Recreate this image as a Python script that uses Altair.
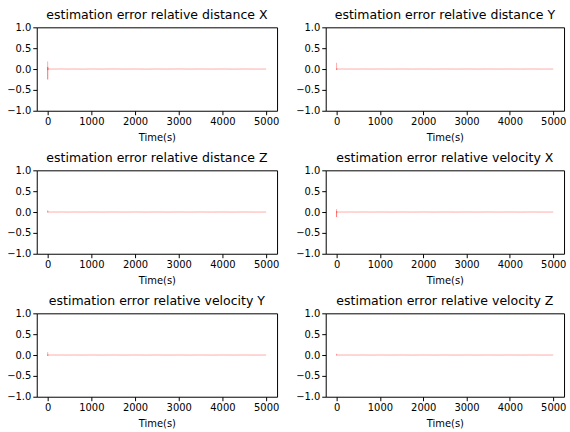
import altair as alt
import pandas as pd

time = [0, 1, 2, 4, 6, 10, 20, 30, 50, 80, 120, 200, 300, 450, 600, 800,
        1000, 1250, 1500, 1750, 2000, 2250, 2500, 2750, 3000, 3250, 3500, 3750, 4000,
        4250, 4500, 4750, 5000]

err_dx = [0.18, -0.25, 0.05, -0.02, 0.01, -0.005, 0.003, -0.002,
          0.002, -0.002, 0.001, -0.001, 0.002, -0.001, 0.001, -0.002, 0.001, -0.001, 0.002,
          -0.001, 0.001, -0.002, 0.001, -0.001, 0.002, -0.001, 0.001, -0.001, 0.001, -0.002,
          0.001, -0.001, 0.0]
err_dy = [0.15, -0.02, 0.01, -0.005, 0.003, -0.002, 0.002, -0.001,
          0.001, -0.001, 0.001, -0.001, 0.001, -0.001, 0.001, -0.001, 0.001, -0.001, 0.001,
          -0.001, 0.001, -0.001, 0.001, -0.001, 0.001, -0.001, 0.001, -0.001, 0.001, -0.001,
          0.001, -0.001, 0.0]
err_dz = [0.04, -0.01, 0.01, 0.0, 0.004, -0.002, 0.002, -0.001,
          0.001, -0.001, 0.001, -0.001, 0.001, -0.001, 0.001, -0.001, 0.001, -0.001, 0.001,
          -0.001, 0.001, -0.001, 0.001, -0.001, 0.001, -0.001, 0.001, -0.001, 0.001, -0.001,
          0.001, -0.001, 0.0]
err_vx = [0.07, -0.12, 0.02, -0.01, 0.004, -0.003, 0.002, -0.001,
          0.001, -0.001, 0.001, -0.001, 0.001, -0.001, 0.001, -0.001, 0.001, -0.001, 0.001,
          -0.001, 0.001, -0.001, 0.001, -0.001, 0.001, -0.001, 0.001, -0.001, 0.001, -0.001,
          0.001, -0.001, 0.0]
err_vy = [0.07, -0.02, 0.01, -0.005, 0.003, -0.002, 0.002, -0.001,
          0.001, -0.001, 0.001, -0.001, 0.001, -0.001, 0.001, -0.001, 0.001, -0.001, 0.001,
          -0.001, 0.001, -0.001, 0.001, -0.001, 0.001, -0.001, 0.001, -0.001, 0.001, -0.001,
          0.001, -0.001, 0.0]
err_vz = [0.03, -0.01, 0.005, 0.0, 0.002, -0.001, 0.001, -0.001,
          0.001, -0.001, 0.001, -0.001, 0.001, -0.001, 0.001, -0.001, 0.001, -0.001, 0.001,
          -0.001, 0.001, -0.001, 0.001, -0.001, 0.001, -0.001, 0.001, -0.001, 0.001, -0.001,
          0.001, -0.001, 0.0]

titles = [
    "estimation error relative distance X",
    "estimation error relative distance Y",
    "estimation error relative distance Z",
    "estimation error relative velocity X",
    "estimation error relative velocity Y",
    "estimation error relative velocity Z",
]
series = [err_dx, err_dy, err_dz, err_vx, err_vy, err_vz]

FONT = "DejaVu Sans"


def panel(title, values, w):
    df = pd.DataFrame({"t": time, "e": values})
    return (
        alt.Chart(df, title=alt.Title(title, fontSize=12.6, fontWeight="normal",
                                      font=FONT, color="black", offset=1))
        .mark_line(color="red", strokeWidth=0.6, opacity=0.55)
        .encode(
            x=alt.X("t:Q", scale=alt.Scale(domain=[-250, 5250], nice=False, zero=False),
                    axis=alt.Axis(title="Time(s)", values=[0, 1000, 2000, 3000, 4000, 5000],
                                  format="d", titlePadding=6)),
            y=alt.Y("e:Q", scale=alt.Scale(domain=[-1, 1], nice=False),
                    axis=alt.Axis(title=None, values=[-1, -0.5, 0, 0.5, 1], format=".1f")),
        )
        .properties(width=w, height=84)
    )


rows = []
for i in range(3):
    rows.append(alt.hconcat(panel(titles[2 * i], series[2 * i], 242),
                            panel(titles[2 * i + 1], series[2 * i + 1], 240), spacing=15))

chart = (
    alt.vconcat(*rows, spacing=7)
    .properties(padding={"left": 6, "top": 6, "right": 3, "bottom": 2}, background="white")
    .configure_view(stroke="black", strokeWidth=1)
    .configure_axis(
        grid=False, domain=False, tickColor="black", tickSize=4, labelColor="black",
        labelFont=FONT, labelFontSize=10, titleFont=FONT, titleFontSize=10,
        titleFontWeight="normal", titleColor="black", labelPadding=2,
    )
)

chart.save("out.html", embed_options={"renderer": "svg", "actions": False})
